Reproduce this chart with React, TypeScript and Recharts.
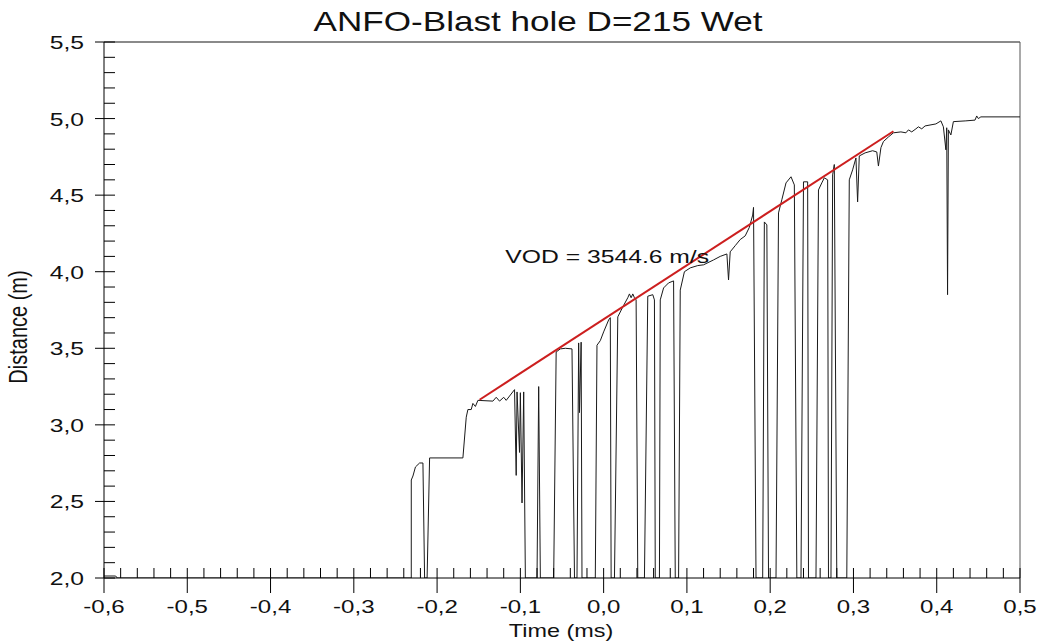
import React from "react";
import { LineChart, Line, XAxis, YAxis, ReferenceLine, ReferenceDot, Customized } from "recharts";

const TITLE = "ANFO-Blast hole D=215 Wet";
const X_LABEL = "Time (ms)";
const Y_LABEL = "Distance (m)";
const VOD_TEXT = "VOD = 3544.6 m/s";

const xMajorTicks = [-0.6, -0.5, -0.4, -0.3, -0.2, -0.1, 0, 0.1, 0.2, 0.3, 0.4, 0.5];
const yMajorTicks = [2.0, 2.5, 3.0, 3.5, 4.0, 4.5, 5.0, 5.5];

// probe trace, [time ms, distance m]
const preTrigger: [number, number][] = [
  [-0.6, 2.013], [-0.586, 2.013], [-0.584, 2.0], [-0.231, 2.0], [-0.231, 2.64],
  [-0.229, 2.666], [-0.226, 2.725], [-0.221, 2.751], [-0.217, 2.751], [-0.215, 2.0],
  [-0.212, 2.0], [-0.209, 2.784], [-0.169, 2.784], [-0.165, 3.05], [-0.163, 3.1],
  [-0.159, 3.1], [-0.157, 3.14], [-0.154, 3.12], [-0.151, 3.16], [-0.133, 3.155],
  [-0.129, 3.18], [-0.125, 3.155], [-0.12, 3.18], [-0.117, 3.16], [-0.112, 3.195],
  [-0.107, 3.23],
];

const burnFront: [number, number][] = [
  [-0.105, 2.67], [-0.104, 3.215], [-0.101, 2.82], [-0.1, 3.21], [-0.098, 2.49],
  [-0.096, 3.215], [-0.094, 2.0], [-0.08, 2.0], [-0.078, 3.25], [-0.076, 2.0],
  [-0.06, 2.0], [-0.057, 3.476], [-0.052, 3.496], [-0.046, 3.5], [-0.038, 3.496],
  [-0.035, 2.0], [-0.032, 2.0], [-0.03, 3.535], [-0.029, 3.08], [-0.027, 3.54],
  [-0.026, 2.0], [-0.01, 2.0], [-0.008, 3.52], [-0.004, 3.55], [0.0, 3.607],
  [0.006, 3.685], [0.008, 3.7], [0.009, 2.0], [0.013, 2.0], [0.017, 3.705],
  [0.023, 3.77], [0.029, 3.83], [0.031, 3.855], [0.033, 3.83], [0.035, 3.855],
  [0.037, 3.83], [0.039, 3.816], [0.041, 2.0], [0.049, 2.0], [0.053, 3.84],
  [0.059, 3.85], [0.061, 3.816], [0.062, 2.0], [0.067, 2.0], [0.068, 3.816],
  [0.072, 3.894], [0.078, 3.927], [0.084, 3.94], [0.086, 2.0], [0.09, 2.0],
  [0.092, 3.88], [0.097, 4.0], [0.104, 4.025], [0.113, 4.04], [0.12, 4.045],
  [0.132, 4.077], [0.14, 4.1], [0.148, 4.116], [0.15, 3.946], [0.152, 4.13],
  [0.158, 4.17], [0.164, 4.21], [0.17, 4.234], [0.175, 4.29], [0.179, 4.37],
  [0.18, 4.42], [0.183, 2.0], [0.191, 2.0], [0.193, 4.325], [0.196, 4.306],
  [0.198, 2.0], [0.207, 2.0], [0.21, 4.384], [0.214, 4.47], [0.219, 4.58],
  [0.225, 4.62], [0.229, 4.567], [0.232, 2.0], [0.237, 2.0], [0.24, 4.587],
  [0.245, 4.587], [0.246, 2.0], [0.255, 2.0], [0.258, 4.534], [0.262, 4.58],
  [0.265, 4.613], [0.269, 4.6], [0.27, 2.0], [0.273, 2.0], [0.275, 4.632],
  [0.277, 4.7], [0.28, 2.0], [0.292, 2.0], [0.295, 4.6], [0.299, 4.665],
  [0.303, 4.743], [0.305, 4.456], [0.307, 4.756], [0.314, 4.776], [0.323, 4.79],
  [0.328, 4.782], [0.33, 4.69], [0.333, 4.81], [0.336, 4.85],
];

const tail: [number, number][] = [
  [0.342, 4.88], [0.348, 4.907], [0.357, 4.913], [0.363, 4.907], [0.366, 4.926],
  [0.37, 4.913], [0.375, 4.933], [0.378, 4.946], [0.382, 4.933], [0.386, 4.952],
  [0.399, 4.965], [0.405, 4.985], [0.408, 4.946], [0.411, 4.796], [0.412, 4.94],
  [0.413, 3.85], [0.414, 4.926], [0.417, 4.893], [0.42, 4.98], [0.435, 4.985],
  [0.446, 4.99], [0.448, 5.017], [0.45, 5.0], [0.453, 5.011], [0.5, 5.011],
];

// linear fit used for the VOD
const fitTime = [-0.149, 0.348];
const fitDist = [3.164, 4.917];
const vodAnchor = { t: -0.118, d: 4.057 };

const FONT = "'Liberation Sans', Arial, sans-serif";
const STRETCH = 1.3;

const trace = [...preTrigger, ...burnFront, ...tail].map(([t, d]) => ({ t, d }));
const fit = fitTime.map((t, i) => ({ t, d: fitDist[i] }));

const round = (v: number) => Math.round(v * 1000) / 1000;

function withMinor(majors: number[], parts: number) {
  const out: number[] = [];
  for (let i = 0; i < majors.length - 1; i++) {
    for (let k = 0; k < parts; k++) {
      out.push(round(majors[i] + ((majors[i + 1] - majors[i]) * k) / parts));
    }
  }
  out.push(majors[majors.length - 1]);
  return out;
}

const xTicks = withMinor(xMajorTicks, 5);
const yTicks = withMinor(yMajorTicks, 5);

const isMajor = (list: number[], v: number) => list.some((m) => Math.abs(m - v) < 1e-6);
const fmt = (v: number) => v.toFixed(1).replace(".", ",");

function Txt({ x, y, anchor = "middle", size = 19, rotate = false, children }: any) {
  return (
    <text
      transform={`translate(${x},${y}) scale(${STRETCH},1)${rotate ? " rotate(-90)" : ""}`}
      textAnchor={anchor}
      fontSize={size}
      fontFamily={FONT}
      fill="#111"
    >
      {children}
    </text>
  );
}

function XTick({ x, y, payload }: any) {
  const major = isMajor(xMajorTicks, payload.value);
  return (
    <g>
      <line x1={x} x2={x} y1={y - 10} y2={major ? y + 15 : y} stroke="#000" />
      {major && <Txt x={x} y={y + 35} size={18.5}>{fmt(payload.value)}</Txt>}
    </g>
  );
}

function YTick({ x, y, payload }: any) {
  const major = isMajor(yMajorTicks, payload.value);
  return (
    <g>
      <line x1={major ? x - 9 : x} x2={x + 11} y1={y} y2={y} stroke="#000" />
      {major && (
        <Txt x={x - 20} y={y + 7} anchor="end">
          {fmt(payload.value)}
        </Txt>
      )}
    </g>
  );
}

function Labels() {
  return (
    <g>
      <Txt x={538} y={31} size={27}>{TITLE}</Txt>
      <Txt x={561} y={637} size={18}>{X_LABEL}</Txt>
      <Txt x={27} y={327} size={20} rotate>{Y_LABEL}</Txt>
    </g>
  );
}

function VodLabel({ viewBox }: any) {
  return (
    <Txt x={viewBox.x} y={viewBox.y} anchor="start">
      {VOD_TEXT}
    </Txt>
  );
}

export default function App() {
  return (
    <div style={{ position: "fixed", left: 0, top: 0, width: 1041, height: 641, background: "#fff" }}>
      <LineChart
        width={1041}
        height={641}
        data={trace}
        margin={{ top: 42, right: 21, bottom: 23, left: 0 }}
      >
        <XAxis
          dataKey="t"
          type="number"
          domain={[-0.6, 0.5]}
          ticks={xTicks}
          interval={0}
          tickSize={0}
          tickMargin={0}
          tick={XTick}
          height={40}
          axisLine={{ stroke: "#000" }}
          allowDataOverflow
        />
        <YAxis
          dataKey="d"
          type="number"
          domain={[2, 5.5]}
          ticks={yTicks}
          interval={0}
          tickSize={0}
          tickMargin={0}
          tick={YTick}
          width={104}
          axisLine={{ stroke: "#000" }}
          allowDataOverflow
        />
        <ReferenceLine y={5.5} stroke="#8a8a8a" strokeWidth={2} />
        <ReferenceLine x={0.5} stroke="#555" strokeWidth={1} />
        <Line
          dataKey="d"
          type="linear"
          stroke="#1a1a1a"
          strokeWidth={1}
          dot={false}
          activeDot={false}
          isAnimationActive={false}
        />
        <Line
          data={fit}
          dataKey="d"
          type="linear"
          stroke="#cc1f1f"
          strokeWidth={2}
          dot={false}
          activeDot={false}
          isAnimationActive={false}
        />
        <ReferenceDot x={vodAnchor.t} y={vodAnchor.d} r={0} stroke="none" fill="none" label={VodLabel} />
        <Customized component={Labels} />
      </LineChart>
    </div>
  );
}
